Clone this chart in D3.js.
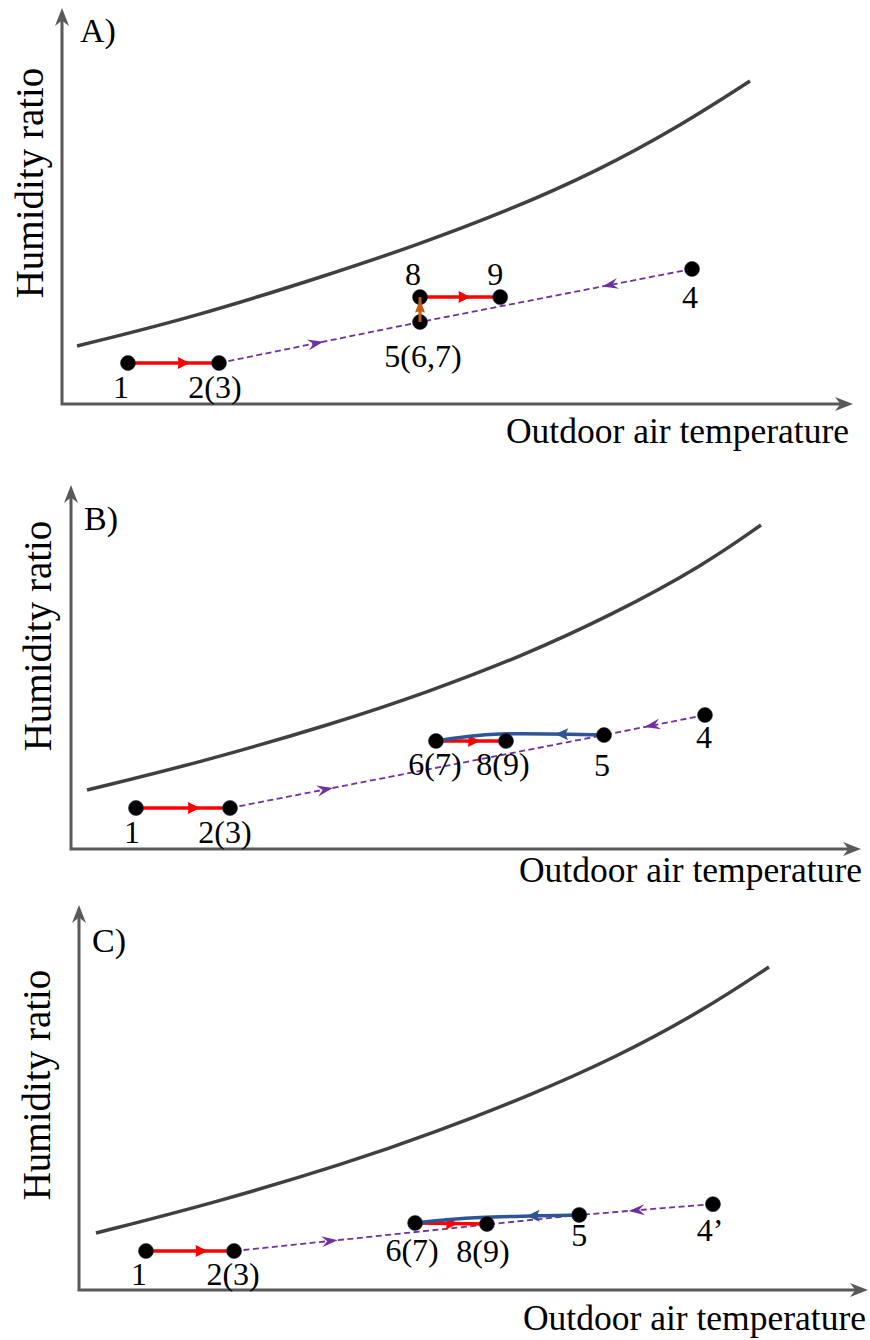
<!DOCTYPE html>
<html><head><meta charset="utf-8">
<script src="https://cdn.jsdelivr.net/npm/d3@7"></script>
<style>
body{margin:0;background:#fff}
svg{display:block}
</style>
</head><body>
<svg id="c" width="870" height="1340"></svg>
<script>
// ---------------- DATA (abstract units, 0-100 on each axis) ----------------
const panelTitles = ["A)", "B)", "C)"];
const xTitle = "Outdoor air temperature";
const yTitle = "Humidity ratio";

// saturation curve samples
const satTempA = [1.9, 16.69, 33.63, 44.88, 56.26, 67.51, 78.76, 86.98];
const satHumA  = [14.65, 21.97, 32.58, 40.15, 48.74, 58.59, 70.96, 81.57];
const satTempB = [2.03, 16.08, 33.54, 45.19, 56.84, 68.48, 80.13, 87.34];
const satHumB  = [16.21, 23.63, 34.62, 43.13, 52.75, 64.29, 78.02, 89.01];
const satTempC = [2.15, 17.11, 34.03, 45.32, 56.65, 67.93, 79.21, 87.45];
const satHumC  = [14.81, 22.6, 32.99, 41.12, 50.13, 60.26, 72.73, 83.9];

// state points
const stateLabelsA = ["1", "2(3)", "5(6,7)", "8", "9", "4"];
const stateTempA   = [8.34, 19.85, 45.26, 45.26, 55.4, 79.65];
const stateHumA    = [10.35, 10.35, 20.7, 27.0, 27.0, 34.1];

const stateLabelsB = ["1", "2(3)", "6(7)", "8(9)", "5", "4"];
const stateTempB   = [8.23, 20.13, 46.2, 55.06, 67.47, 80.25];
const stateHumB    = [11.26, 11.26, 29.67, 29.67, 31.3, 36.8];

const stateLabelsC = ["1", "2(3)", "6(7)", "8(9)", "5", "4\u2019"];
const stateTempC   = [8.49, 19.65, 42.6, 51.7, 63.4, 80.35];
const stateHumC    = [10.13, 10.13, 17.4, 17.14, 19.5, 22.3];

// processes: [from index, to index, kind, arrow position along path]
const processesA = [[0,1,"heat",0.68],[1,2,"mix",0.52],[5,2,"mix",0.33],[3,4,"heat",0.63],[2,3,"humid",0.9]];
const processesB = [[0,1,"heat",0.68],[1,4,"mix",0.275],[5,4,"mix",0.6],[2,3,"heat",0.63],[4,2,"cool",0.29]];
const processesC = [[0,1,"heat",0.70],[1,4,"mix",0.30],[5,4,"mix",0.63],[2,3,"heat",0.6],[4,2,"cool",0.32]];
// intermediate point of the cooling curve (temp, hum)
const coolViaB = [54.3, 31.6];
const coolViaC = [50.8, 18.8];

// ---------------- LAYOUT ----------------
const FONT = "Liberation Serif, serif";
const frames = [
  {x0:62, x1:853, y0:404, y1:8,   letter:[80,42],  ytx:43, yty:183, xtx:849, xty:443},
  {x0:71, x1:861, y0:849, y1:485, letter:[84,530], ytx:51, yty:636, xtx:862, xty:882},
  {x0:79, x1:868, y0:1290,y1:905, letter:[92,952], ytx:50, yty:1085, xtx:866, xty:1330}
];
const labelOffsets = [
  [[-7,35],[-4,35],[3,45],[-7,-12],[-5,-12],[-2,39]],
  [[-4,35],[-5,35],[-1,34],[-3,34],[-2,41],[-1,33]],
  [[-7,34],[-1,34],[-3,38],[-4,38],[0,31],[-3,37]]
];
const styles = {
  heat:  {stroke:"#ff0000", width:3.5, dash:null, L:12, W:12, notch:0.95},
  mix:   {stroke:"#7030a0", width:1.8, dash:"6,3.5", L:16, W:11, notch:0.65},
  cool:  {stroke:"#2f5597", width:3.5, dash:null, L:13, W:12, notch:0.8},
  humid: {stroke:"#c55a11", width:3, dash:null, L:13, W:10, notch:0.9}
};

const svg = d3.select("#c");

function arrowHead(g, x, y, ang, color, L, W, notch) {
  const p = d3.path();
  p.moveTo(0,0); p.lineTo(-L,-W/2); p.lineTo(-L*notch,0); p.lineTo(-L,W/2); p.closePath();
  g.append("path").attr("d", p.toString()).attr("fill", color)
    .attr("transform", `translate(${x},${y}) rotate(${ang*180/Math.PI})`);
}

const panelData = [
  {sT:satTempA, sH:satHumA, lab:stateLabelsA, T:stateTempA, Hm:stateHumA, pr:processesA, via:null},
  {sT:satTempB, sH:satHumB, lab:stateLabelsB, T:stateTempB, Hm:stateHumB, pr:processesB, via:coolViaB},
  {sT:satTempC, sH:satHumC, lab:stateLabelsC, T:stateTempC, Hm:stateHumC, pr:processesC, via:coolViaC}
];

panelData.forEach((P, i) => {
  const f = frames[i];
  const x = d3.scaleLinear().domain([0,100]).range([f.x0, f.x1]);
  const y = d3.scaleLinear().domain([0,100]).range([f.y0, f.y1]);
  const g = svg.append("g");

  // axes
  const axColor = "#595959";
  g.append("path").attr("d", `M${x(0)},${y(100)+10}V${y(0)}H${x(100)-10}`)
    .attr("fill","none").attr("stroke",axColor).attr("stroke-width",3).attr("stroke-linejoin","miter");
  arrowHead(g, x(100), y(0), 0, axColor, 18, 14, 0.7);
  arrowHead(g, x(0), y(100), -Math.PI/2, axColor, 18, 14, 0.7);

  // titles
  g.append("text").attr("x", f.letter[0]).attr("y", f.letter[1]).attr("style", `font-family:${FONT}`)
    .attr("font-size", 34).text(panelTitles[i]);
  g.append("text").attr("x", f.xtx).attr("y", f.xty).attr("text-anchor","end").attr("style", `font-family:${FONT}`)
    .attr("font-size", 35.5).text(xTitle);
  g.append("text").attr("transform", `translate(${f.ytx},${f.yty}) rotate(-90)`).attr("style", `font-family:${FONT}`)
    .attr("text-anchor","middle").attr("font-size", 39).text(yTitle);

  // saturation curve
  const sat = P.sT.map((t,k)=>[t, P.sH[k]]);
  g.append("path").attr("d", d3.line().x(d=>x(d[0])).y(d=>y(d[1])).curve(d3.curveBasis)(sat))
    .attr("fill","none").attr("stroke","#404040").attr("stroke-width",3.5);

  const pts = P.T.map((t,k)=>[t, P.Hm[k]]);
  const lineGen = d3.line().x(d=>x(d[0])).y(d=>y(d[1]));

  function drawProc(pr) {
    const [a,b,kind,t] = pr;
    const st = styles[kind];
    let coords = [pts[a], pts[b]];
    let gen = lineGen;
    if (kind === "cool" && P.via) { coords = [pts[a], P.via, pts[b]]; gen = d3.line().x(d=>x(d[0])).y(d=>y(d[1])).curve(d3.curveNatural); }
    const path = g.append("path").attr("d", gen(coords)).attr("fill","none")
      .attr("stroke", st.stroke).attr("stroke-width", st.width);
    if (st.dash) path.attr("stroke-dasharray", st.dash);
    const node = path.node(); const len = node.getTotalLength();
    const tip = node.getPointAtLength(t*len);
    const back = node.getPointAtLength(Math.max(0, t*len - 2));
    arrowHead(g, tip.x, tip.y, Math.atan2(tip.y-back.y, tip.x-back.x), st.stroke, st.L, st.W, st.notch);
  }
  // lines under points
  P.pr.filter(p=>p[2]==="mix").forEach(drawProc);
  P.pr.filter(p=>p[2]==="heat").forEach(drawProc);
  P.pr.filter(p=>p[2]==="cool").forEach(drawProc);

  // points
  g.selectAll("circle.pt").data(pts).join("circle").attr("class","pt")
    .attr("cx", d=>x(d[0])).attr("cy", d=>y(d[1])).attr("r", 7.5)
    .attr("fill","#000").attr("stroke","#1f2a44").attr("stroke-width",0.6);

  // humidification arrow on top
  P.pr.filter(p=>p[2]==="humid").forEach(drawProc);

  // labels
  g.selectAll("text.lab").data(pts).join("text").attr("class","lab")
    .attr("x", (d,k)=>x(d[0]) + labelOffsets[i][k][0])
    .attr("y", (d,k)=>y(d[1]) + labelOffsets[i][k][1])
    .attr("text-anchor","middle").attr("style", `font-family:${FONT}`).attr("font-size", 32)
    .text((d,k)=>P.lab[k]);
});
</script>
</body></html>
